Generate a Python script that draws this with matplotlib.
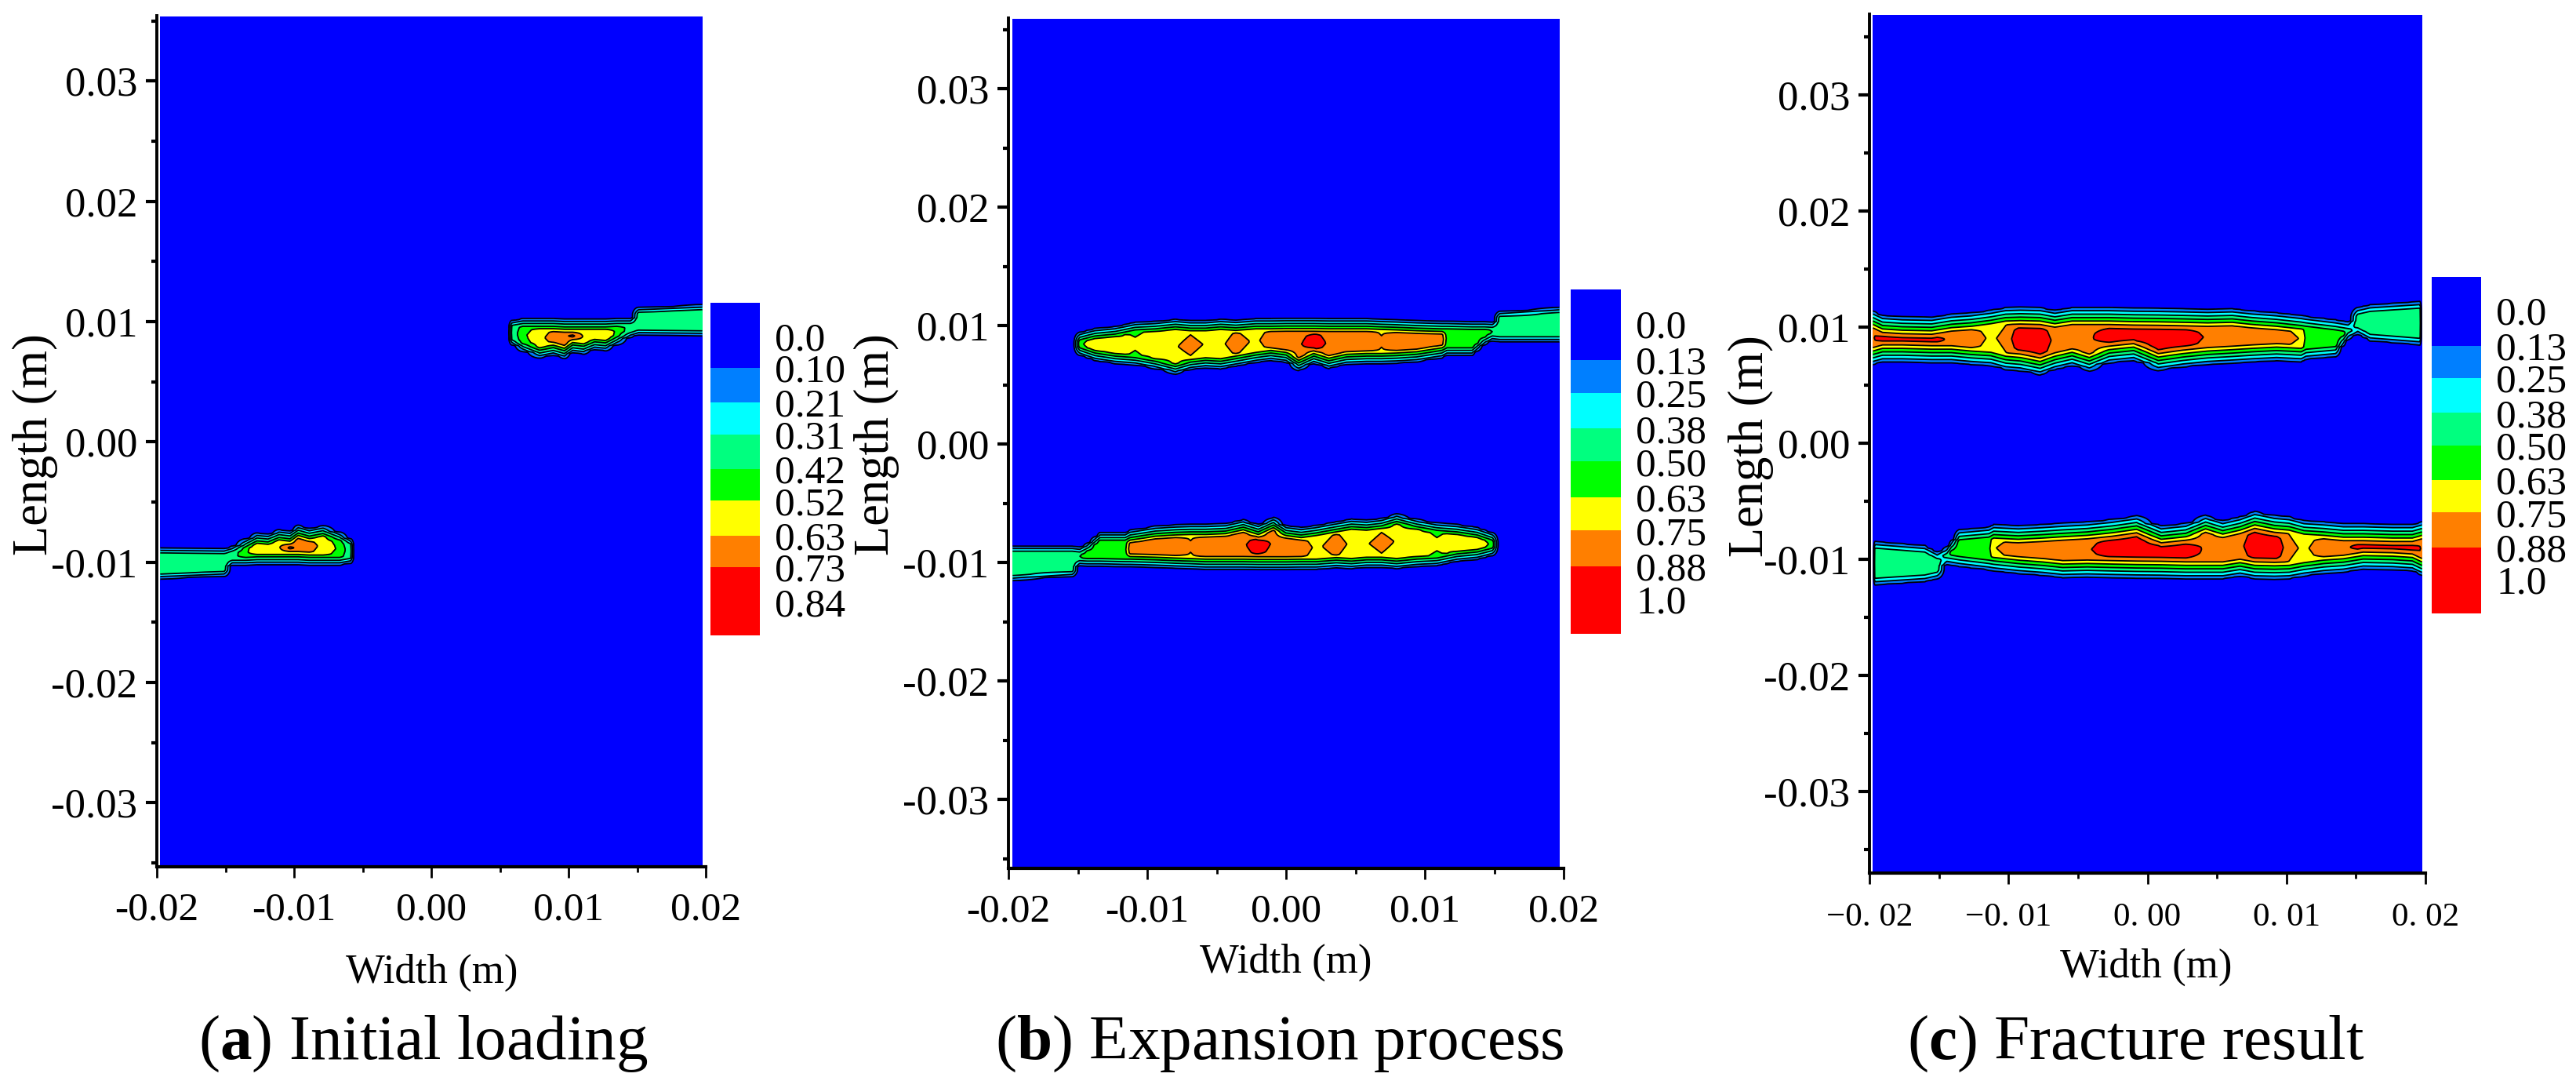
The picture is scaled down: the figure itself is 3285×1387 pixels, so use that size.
import numpy as np
import matplotlib
matplotlib.use("Agg")
import matplotlib.pyplot as plt
from matplotlib.colors import ListedColormap

plt.rcParams['font.family'] = ['Liberation Serif', 'DejaVu Serif']
plt.rcParams['mathtext.fontset'] = 'custom'
plt.rcParams['mathtext.rm'] = 'Liberation Serif'
plt.rcParams['mathtext.bf'] = 'Liberation Serif:bold'

W, H = 3285, 1387

colors = ['#0000FF', '#007FFF', '#00FFFF', '#00FF7F', '#00FF00', '#FFFF00', '#FF7F00', '#FF0000']

# colour-scale labels and contour levels
labels_a = ['0.0', '0.10', '0.21', '0.31', '0.42', '0.52', '0.63', '0.73', '0.84']
labels_b = ['0.0', '0.13', '0.25', '0.38', '0.50', '0.63', '0.75', '0.88', '1.0']
levels_a = [0.10, 0.21, 0.31, 0.42, 0.52, 0.63, 0.73]
levels_b = [0.13, 0.25, 0.38, 0.50, 0.63, 0.75, 0.88]
edges_a = [-0.105, 0.10, 0.21, 0.31, 0.42, 0.52, 0.63, 0.73, 0.945]
edges_b = [-0.125, 0.13, 0.25, 0.38, 0.50, 0.63, 0.75, 0.88, 1.125]

# upper crack band, mm; the lower band is the same band turned by 180 degrees
a_x = [5.56, 5.88, 6.68, 7.89, 8.89, 9.7, 10.3, 11.1, 11.9, 12.7, 13.51, 14.5, 15.1, 19.8]
a_top = [9.03, 10.11, 10.27, 10.27, 10.27, 10.22, 10.22, 10.22, 10.22, 10.22, 10.27, 10.27, 11.2, 11.42]
a_bot = [9.03, 8.05, 7.5, 6.96, 7.18, 6.92, 7.4, 7.29, 7.66, 7.57, 8.05, 8.66, 8.87, 8.81]
a_peak = [0.0, 0.35, 0.50, 0.60, 0.68, 0.72, 0.82, 0.62, 0.60, 0.62, 0.50, 0.38, 0.40, 0.40]

b_x = [-15.4, -14.86, -13.77, -12.32, -10.87, -9.42, -7.97, -6.88, -5.8, -4.71, -3.62, -2.17, -1.09,
       0.0, 0.91, 2.0, 3.08, 4.35, 5.8, 6.88, 7.97, 9.42, 11.23, 11.59, 13.41, 14.31, 14.86, 15.4, 19.7]
b_top = [8.35, 9.45, 9.78, 9.94, 10.29, 10.38, 10.55, 10.44, 10.44, 10.55, 10.47, 10.6, 10.6,
         10.62, 10.62, 10.62, 10.6, 10.6, 10.6, 10.55, 10.51, 10.44, 10.38, 10.38, 10.33, 10.33, 10.29, 11.22, 11.55]
b_bot = [8.35, 7.46, 7.02, 6.76, 6.63, 6.32, 5.88, 6.25, 6.4, 6.32, 6.54, 6.85, 7.02,
         6.85, 6.18, 6.76, 6.36, 6.69, 6.76, 6.76, 6.8, 6.91, 7.24, 7.46, 7.46, 8.35, 8.68, 8.61, 8.61]
b_peak = [0.0, 0.60, 0.72, 0.72, 0.66, 0.72, 0.74, 0.80, 0.74, 0.72, 0.82, 0.72, 0.84,
          0.86, 0.86, 0.97, 0.86, 0.84, 0.86, 0.78, 0.86, 0.86, 0.82, 0.60, 0.60, 0.55, 0.50, 0.48, 0.48]

c_x = [-19.75, -19.06, -17.64, -15.52, -14.1, -12.68, -11.26, -10.2, -9.14, -7.72, -6.66, -5.42, -4.18,
       -2.76, -0.99, 0.78, 2.55, 4.33, 6.1, 7.52, 9.29, 11.06, 11.41, 13.54, 14.43, 15.13, 16.02, 19.6]
c_top = [11.42, 11.03, 10.92, 10.87, 11.14, 11.26, 11.48, 11.71, 11.75, 11.71, 11.48, 11.71, 11.71,
         11.71, 11.66, 11.64, 11.6, 11.55, 11.6, 11.42, 11.26, 11.03, 10.96, 10.65, 10.47, 11.71, 11.95, 12.23]
c_bot = [6.75, 6.98, 6.98, 6.91, 6.91, 6.75, 6.64, 6.3, 6.19, 5.85, 6.3, 6.64, 6.19,
         6.87, 7.09, 6.23, 6.53, 6.75, 6.87, 6.98, 7.09, 6.98, 7.2, 7.43, 8.89, 9.34, 8.78, 8.44]
c_peak = [0.86, 1.0, 1.0, 0.96, 0.84, 0.84, 0.72, 0.80, 1.0, 1.0, 0.84, 0.84, 0.86,
          1.0, 1.0, 1.0, 0.98, 0.86, 0.80, 0.84, 0.84, 0.74, 0.60, 0.60, 0.55, 0.48, 0.48, 0.48]

# distance from the band edge (mm) against contour value
rise_d = [-0.05, 0.0, 0.22, 0.44, 0.66, 0.88, 1.10, 1.35, 1.70]
rise_v = [0.0, 0.13, 0.25, 0.38, 0.50, 0.63, 0.75, 0.88, 1.0]

x_major = [-0.02, -0.01, 0.0, 0.01, 0.02]
x_minor = [-0.015, -0.005, 0.005, 0.015]
y_major = [-0.03, -0.02, -0.01, 0.0, 0.01, 0.02, 0.03]
y_minor = [-0.035, -0.025, -0.015, -0.005, 0.005, 0.015, 0.025, 0.035]
x_lab_ab = ['-0.02', '-0.01', '0.00', '0.01', '0.02']
x_lab_c = ['\u22120. 02', '\u22120. 01', '0. 00', '0. 01', '0. 02']
y_lab = ['-0.03', '-0.02', '-0.01', '0.00', '0.01', '0.02', '0.03']

panels = [
    dict(band=(a_x, a_top, a_bot, a_peak), scale=0.84, stretch=1.0, levels=levels_a, edges=edges_a, labels=labels_a,
         ax=(200, 900, 20, 1105), y0=563.3, ppm=15.33, xmm=19.75, cb=(906, 969, 386, 810),
         xlab=x_lab_ab, xfs=37, wl=(551, 1240), yl=(45, 567), cap=r'($\mathbf{a}$) Initial loading', capx=540, pad=13),
    dict(band=(b_x, b_top, b_bot, b_peak), scale=1.0, stretch=1.0, levels=levels_b, edges=edges_b, labels=labels_b,
         ax=(1286, 1994, 23, 1107), y0=566.0, ppm=15.1, xmm=19.7, cb=(2003, 2067, 369, 808),
         xlab=x_lab_ab, xfs=37, wl=(1640, 1227), yl=(1118, 567), cap=r'($\mathbf{b}$) Expansion process', capx=1632, pad=13),
    dict(band=(c_x, c_top, c_bot, c_peak), scale=1.0, stretch=1.35, levels=levels_b, edges=edges_b, labels=labels_b,
         ax=(2384, 3093, 18, 1113), y0=565.0, ppm=14.8, xmm=19.75, cb=(3101, 3164, 353, 782),
         xlab=x_lab_c, xfs=31, wl=(2737, 1233), yl=(2233, 569), cap=r'($\mathbf{c}$) Fracture result', capx=2724, pad=17),
]

cmap = ListedColormap(colors)
fig = plt.figure(figsize=(W / 100, H / 100), dpi=100)


def axes_px(l, r, t, b):
    return fig.add_axes([l / W, 1 - b / H, (r - l) / W, (b - t) / H])


def band_field(xg, yg, bx, btop, bbot, bpeak, scale, stretch):
    top = np.interp(xg, bx, btop, left=np.nan, right=np.nan)
    bot = np.interp(xg, bx, bbot, left=np.nan, right=np.nan)
    pk = np.interp(xg, bx, bpeak, left=0.0, right=bpeak[-1])
    half = np.maximum(np.nan_to_num((top - bot) / 2, nan=1.0), 0.05)
    d = np.minimum(yg[:, None] - bot[None, :], top[None, :] - yg[:, None])
    d = np.nan_to_num(d, nan=-1.0)
    z = np.interp(d / stretch, rise_d, rise_v) * scale
    ceiling = pk[None, :] * (0.85 + 0.15 * np.clip(d / half[None, :], 0, 1))
    return np.minimum(z, ceiling)


for p in panels:
    l, r, t, b = p['ax']
    ax = axes_px(l, r, t, b)
    bx, btop, bbot, bpeak = [np.asarray(v, float) for v in p['band']]
    lim = p['xmm']
    xg = np.unique(np.concatenate([bx, -bx, [-lim, lim]]))
    xg = xg[np.abs(xg) <= lim]
    ytop = (p['y0'] - t) / p['ppm']
    ybot = (p['y0'] - b) / p['ppm']
    yg = np.arange(ybot + 0.15, ytop - 0.08, 0.04)
    upper = band_field(xg, yg, bx, btop, bbot, bpeak, p['scale'], p['stretch'])
    # lower band: order reversed because the x and y axes both flip
    lower = band_field(-xg[::-1], -yg[::-1], bx, btop, bbot, bpeak, p['scale'], p['stretch'])[::-1, ::-1]
    Z = np.maximum(upper, lower)
    lv = p['levels']
    ax.contourf(xg * 1e-3, yg * 1e-3, Z, levels=[-1] + lv + [2], colors=colors)
    ax.contour(xg * 1e-3, yg * 1e-3, Z, levels=lv, colors='k', linewidths=1.3)
    ax.set_xlim(-0.02, 0.02)
    ax.set_ylim(ybot * 1e-3, ytop * 1e-3)
    ax.spines['top'].set_visible(False)
    ax.spines['right'].set_visible(False)
    ax.spines['left'].set_linewidth(2.8)
    ax.spines['bottom'].set_linewidth(3.0)
    ax.set_xticks(x_major)
    ax.set_xticks(x_minor, minor=True)
    ax.set_yticks(y_major)
    ax.set_yticks(y_minor, minor=True)
    ax.set_xticklabels(p['xlab'], fontsize=p['xfs'])
    ax.set_yticklabels(y_lab, fontsize=38)
    ax.tick_params(axis='x', which='major', length=10, width=2, pad=p['pad'])
    ax.tick_params(axis='x', which='minor', length=5, width=2)
    ax.tick_params(axis='y', which='major', length=10, width=3, pad=8)
    ax.tick_params(axis='y', which='minor', length=5, width=3)

    cl, cr, ct, cb = p['cb']
    cax = axes_px(cl, cr, ct, cb)
    cax.pcolormesh([0, 1], p['edges'], np.arange(8)[:, None], cmap=cmap, vmin=-0.5, vmax=7.5)
    cax.set_ylim(p['edges'][-1], p['edges'][0])
    cax.set_xticks([])
    cax.yaxis.tick_right()
    cax.set_yticks([float(s) for s in p['labels']])
    cax.set_yticklabels(p['labels'], fontsize=37)
    cax.tick_params(axis='y', length=0, pad=14)
    for s in cax.spines.values():
        s.set_visible(False)

    wx, wy = p['wl']
    fig.text(wx / W, 1 - wy / H, 'Width (m)', fontsize=38, ha='center', va='center')
    lx, ly = p['yl']
    fig.text(lx / W, 1 - ly / H, 'Length (m)', fontsize=45, rotation=90, ha='center', va='center')
    fig.text(p['capx'] / W, 1 - 1350 / H, p['cap'], fontsize=58.5, ha='center', va='baseline')

fig.savefig('out.png', dpi=100, facecolor='white')
